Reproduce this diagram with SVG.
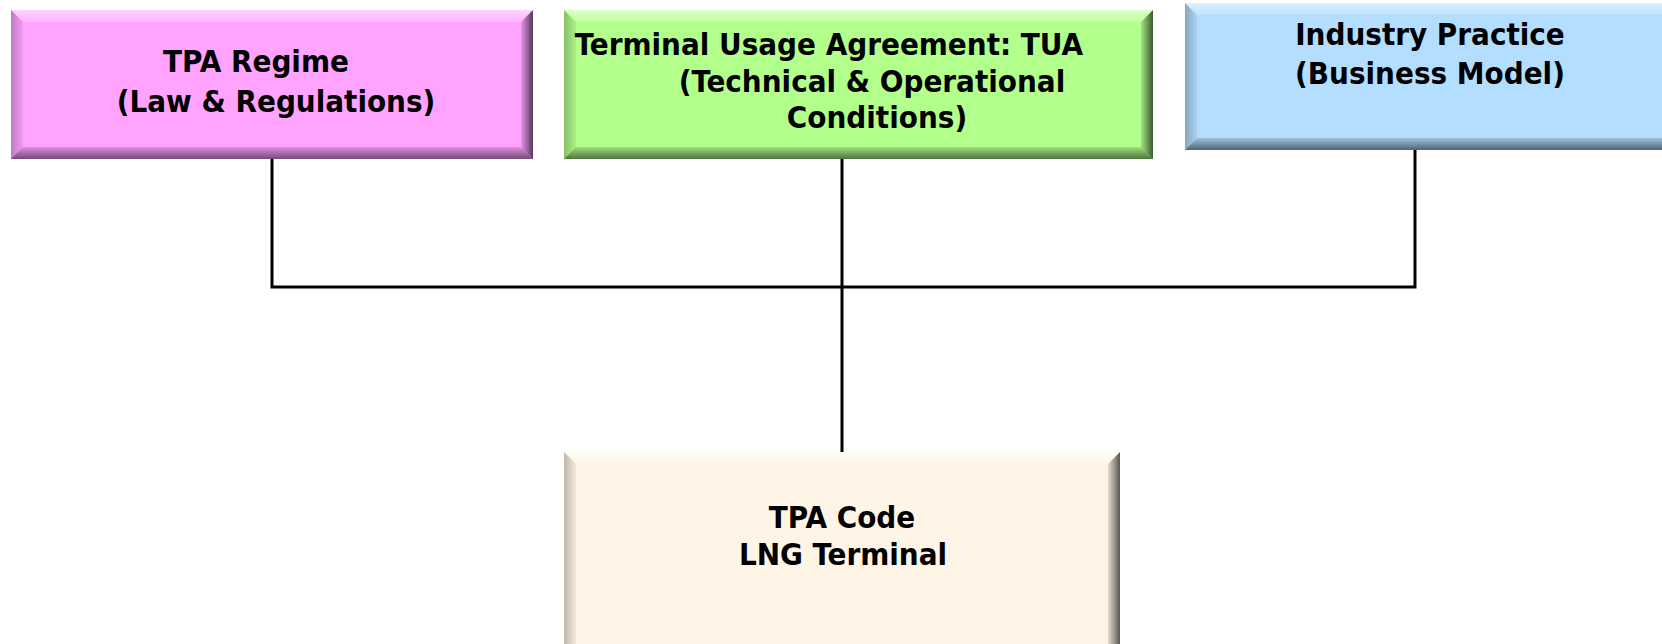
<svg xmlns="http://www.w3.org/2000/svg" width="1662" height="644" viewBox="0 0 1662 644">
<style>
  .t { font-family: "DejaVu Sans Condensed", "DejaVu Sans", sans-serif; font-weight: bold; font-size: 31px; fill: #000; text-anchor: middle; }
  .conn { stroke: #000; stroke-width: 3; fill: none; }
</style>
<defs>
  <linearGradient id="gTop" x1="0" y1="0" x2="0" y2="1"><stop offset="0" stop-color="#fff" stop-opacity="0.55"/><stop offset="1" stop-color="#fff" stop-opacity="0.15"/></linearGradient>
  <linearGradient id="gBot" x1="0" y1="1" x2="0" y2="0"><stop offset="0" stop-color="#000" stop-opacity="0.55"/><stop offset="1" stop-color="#000" stop-opacity="0.12"/></linearGradient>
  <linearGradient id="gLeft" x1="0" y1="0" x2="1" y2="0"><stop offset="0" stop-color="#000" stop-opacity="0.25"/><stop offset="1" stop-color="#000" stop-opacity="0.05"/></linearGradient>
  <linearGradient id="gRight" x1="1" y1="0" x2="0" y2="0"><stop offset="0" stop-color="#000" stop-opacity="0.65"/><stop offset="1" stop-color="#000" stop-opacity="0.1"/></linearGradient>
</defs>

<g id="connectors">
  <polyline class="conn" points="272,158 272,287 1415,287 1415,150"/>
  <line class="conn" x1="842" y1="158" x2="842" y2="452"/>
</g>

<g id="node-tpa-regime">
  <rect x="11" y="10" width="522" height="149" fill="#FFA3FF"/>
  <polygon points="11,10 533,10 521,22 23,22" fill="url(#gTop)"/>
  <polygon points="11,159 533,159 521,147 23,147" fill="url(#gBot)"/>
  <polygon points="11,10 23,22 23,147 11,159" fill="url(#gLeft)"/>
  <polygon points="533,10 521,22 521,147 533,159" fill="url(#gRight)"/>
  <text class="t" x="256" y="72">TPA Regime</text>
  <text class="t" x="276" y="112">(Law &amp; Regulations)</text>
</g>

<g id="node-tua">
  <rect x="564" y="10" width="589" height="149" fill="#B3FF8C"/>
  <polygon points="564,10 1153,10 1141,22 576,22" fill="url(#gTop)"/>
  <polygon points="564,159 1153,159 1141,147 576,147" fill="url(#gBot)"/>
  <polygon points="564,10 576,22 576,147 564,159" fill="url(#gLeft)"/>
  <polygon points="1153,10 1141,22 1141,147 1153,159" fill="url(#gRight)"/>
  <text class="t" x="829" y="55">Terminal Usage Agreement: TUA</text>
  <text class="t" x="872" y="92">(Technical &amp; Operational</text>
  <text class="t" x="877" y="128">Conditions)</text>
</g>

<g id="node-industry">
  <rect x="1185" y="3" width="520" height="147" fill="#B3DEFF"/>
  <polygon points="1185,3 1705,3 1693,15 1197,15" fill="url(#gTop)"/>
  <polygon points="1185,150 1705,150 1693,138 1197,138" fill="url(#gBot)"/>
  <polygon points="1185,3 1197,15 1197,138 1185,150" fill="url(#gLeft)"/>
  <text class="t" x="1430" y="45">Industry Practice</text>
  <text class="t" x="1430" y="84">(Business Model)</text>
</g>

<g id="node-tpa-code">
  <rect x="564" y="452" width="556" height="200" fill="#FFF5E6"/>
  <polygon points="564,452 1120,452 1108,464 576,464" fill="url(#gTop)"/>
  <polygon points="564,452 576,464 576,652 564,652" fill="url(#gLeft)"/>
  <polygon points="1120,452 1108,464 1108,652 1120,652" fill="url(#gRight)"/>
  <text class="t" x="842" y="528">TPA Code</text>
  <text class="t" x="843" y="565">LNG Terminal</text>
</g>
</svg>
